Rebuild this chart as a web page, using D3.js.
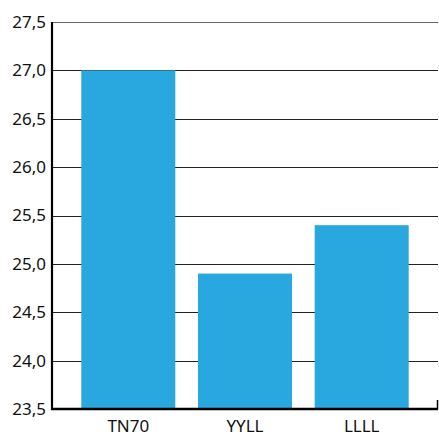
<!DOCTYPE html>
<html><head><meta charset="utf-8">
<script src="https://cdn.jsdelivr.net/npm/d3@7"></script>
<style>body{margin:0;background:#fff}svg{display:block}text{font-family:"Noto Sans","Open Sans",sans-serif;fill:#111}</style>
</head><body><svg id="c" width="439" height="434"></svg>
<script>
const categories = ["TN70", "YYLL", "LLLL"];
const values = [27.0, 24.9, 25.4];
const yTicks = [23.5, 24.0, 24.5, 25.0, 25.5, 26.0, 26.5, 27.0, 27.5];

(function () {
const svg = d3.select("#c");
const mL = 52, mR = 438, mT = 22, mB = 409;
const y = d3.scaleLinear().domain([23.5, 27.5]).range([mB, mT]);
const x = d3.scaleBand().domain(categories).range([mL, mR]).paddingInner(0.1945).paddingOuter(0.251);
const fmt = v => d3.format(".1f")(v).replace(".", ",");

// gridlines
svg.append("g").selectAll("line").data(yTicks.slice(1)).join("line")
  .attr("x1", mL).attr("x2", mR)
  .attr("y1", d => Math.round(y(d)) + 0.5).attr("y2", d => Math.round(y(d)) + 0.5)
  .attr("stroke", d => d === 27.5 ? "#666" : "#222").attr("stroke-width", 1.2);

// bars
svg.append("g").selectAll("rect").data(categories).join("rect")
  .attr("x", d => x(d)).attr("width", x.bandwidth())
  .attr("y", (d, i) => y(values[i])).attr("height", (d, i) => mB - y(values[i]))
  .attr("fill", "#29a8e0");

// y axis labels
svg.append("g").selectAll("text").data(yTicks).join("text")
  .attr("x", 46).attr("y", d => y(d)).attr("dy", "0.35em")
  .attr("text-anchor", "end").attr("font-size", 17).text(fmt);

// x labels
svg.append("g").selectAll("text").data(categories).join("text")
  .attr("x", d => x(d) + x.bandwidth() / 2).attr("y", 432)
  .attr("text-anchor", "middle").attr("font-size", 17).text(d => d);

// axes lines
svg.append("line").attr("x1", mL).attr("x2", mL).attr("y1", mT).attr("y2", mB + 1)
  .attr("stroke", "#000").attr("stroke-width", 2.2);
svg.append("line").attr("x1", mL - 1).attr("x2", mR).attr("y1", mB).attr("y2", mB)
  .attr("stroke", "#000").attr("stroke-width", 2.5);
svg.append("line").attr("x1", mR - 0.5).attr("x2", mR - 0.5).attr("y1", mB).attr("y2", 400)
  .attr("stroke", "#000").attr("stroke-width", 1.5);
})();
</script></body></html>
